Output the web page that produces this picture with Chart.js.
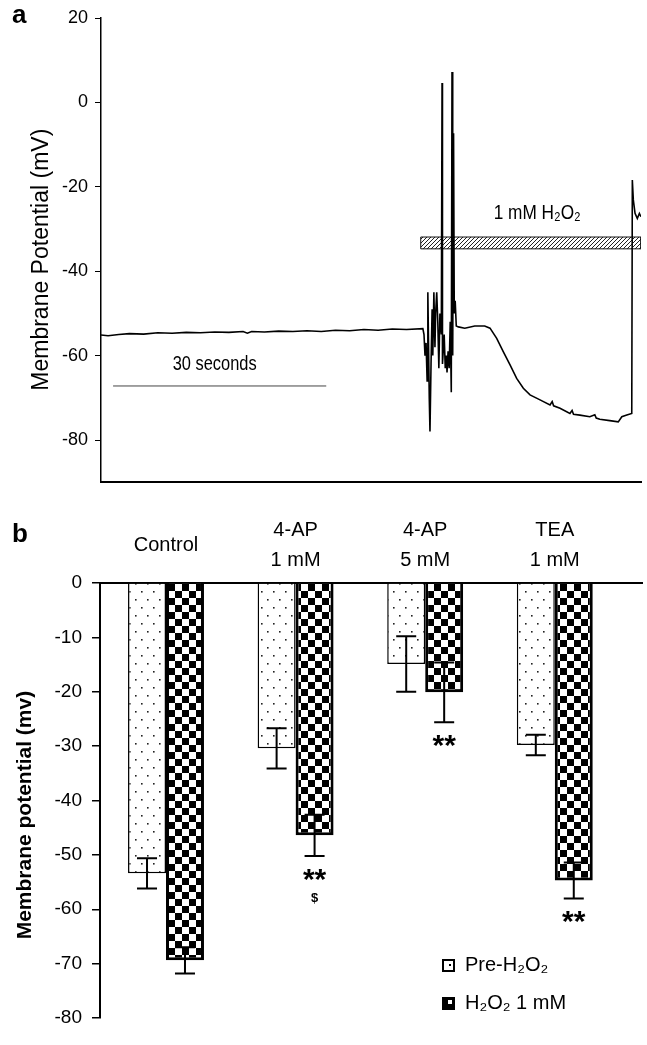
<!DOCTYPE html>
<html><head><meta charset="utf-8">
<script src="https://cdn.jsdelivr.net/npm/chart.js@4.4.1/dist/chart.umd.min.js"></script>
<style>
html,body{margin:0;padding:0;background:#fff;}
#wrap{position:relative;width:647px;height:1045px;overflow:hidden;background:#fff;}
canvas{position:absolute;left:0;}
#ca{top:0;} #cb{top:500px;}
.pl{position:absolute;font:bold 26px "Liberation Sans",Arial,sans-serif;line-height:1;color:#000;}
</style></head><body>
<div id="wrap">
<canvas id="ca" width="647" height="500"></canvas>
<canvas id="cb" width="647" height="545"></canvas>
<div class="pl" style="left:12px;top:1px">a</div>
<div class="pl" style="left:12px;top:520px">b</div>
</div>
<script>
// ---------- Panel a: membrane potential trace ----------
const traceTime = [0,1,2.5,4,6,8,10,12,14,16,18,20,20.6,21.2,23,25,27,29,31,33,35,37,39,41,43,45.3,
  45.46,45.6,45.75,45.9,46.0,46.2,46.3,46.45,46.6,46.7,46.85,47.0,47.1,47.25,47.4,47.55,47.7,47.9,48.0,48.06,
  48.3,48.45,48.6,48.7,48.85,49.0,49.15,49.3,49.4,49.5,49.62,49.72,49.85,50.0,50.3,51.2,52.6,54.0,54.75,
  55.69,56.63,57.57,58.5,59.44,60.38,61.79,63.2,63.5,63.7,64.6,66.0,66.3,66.5,67.4,68.8,69.5,69.7,70.2,71.6,
  72.8,73.3,74.0,74.7,74.78,74.92,75.16,75.48,75.77,76.0];
const traceMv = [-55.1,-55.3,-55.0,-54.8,-54.9,-54.6,-54.7,-54.5,-54.6,-54.4,-54.5,-54.3,-54.7,-54.3,-54.4,-54.2,-54.3,-54.1,-54.3,-54.0,-54.1,-53.8,-54.0,-53.7,-53.8,-53.6,
  -55,-60,-57,-66,-45,-70,-78,-62,-49,-60,-45,-58,-50,-45,-52,-63,-50,-55,4.6,-62,
  -55,-63,-60,-64,-59,-63,-52,-68.7,7.2,-60,-7.3,-50,-47,-53,-53.2,-53.5,-53.0,-53.0,-53.5,
  -55.9,-59.1,-62.2,-65.4,-67.75,-69.3,-70.5,-71.7,-70.9,-71.9,-72.5,-73.7,-73.0,-73.9,-74.1,-74.5,-74.0,-74.8,-75.1,-75.4,
  -75.7,-74.5,-74.1,-73.7,-18.4,-23.1,-26.3,-27.5,-26.3,-27.1];
const scaleBarTime = [1.7, 31.7];
const scaleBarMv = [-67.2, -67.2];
const h2o2BarTime = [45.0, 76.0, 76.0, 45.0, 45.0];
const h2o2BarMv = [-31.9, -31.9, -34.7, -34.7, -31.9];
const yTicksA = [20, 0, -20, -40, -60, -80];
const annotTextA = ['30 seconds', '1 mM H\u2082O\u2082'];
const annotTimeA = [16.0, 61.4];
const annotMvA = [-62.2, -26.2];

// ---------- Panel b: grouped bars ----------
const categories = ['Control', ['4-AP', '1 mM'], ['4-AP', '5 mM'], ['TEA', '1 mM']];
const seriesNames = ['Pre-H\u2082O\u2082', 'H\u2082O\u2082 1 mM'];
const preMean = [-53.4, -30.4, -14.9, -29.8];
const preErr = [2.8, 3.7, 5.1, 1.9];
const h2o2Mean = [-69.4, -46.4, -20.1, -54.7];
const h2o2Err = [2.4, 3.8, 5.5, 3.3];
const sigMarks = ['', '**', '**', '**'];
const extraMarks = ['', '$', '', ''];
const yTicksB = [0, -10, -20, -30, -40, -50, -60, -70, -80];

const SANS = '"Liberation Sans",Arial,Helvetica,sans-serif';

function makePattern(w, h, draw) {
  const c = document.createElement('canvas');
  c.width = w; c.height = h;
  const g = c.getContext('2d');
  g.fillStyle = '#fff'; g.fillRect(0, 0, w, h);
  draw(g);
  return g.createPattern(c, 'repeat');
}
const dotPattern = makePattern(12, 16, g => {
  g.fillStyle = '#222';
  g.fillRect(3, 3, 1.6, 1.6);
  g.fillRect(9, 11, 1.6, 1.6);
});
const checkerPattern = makePattern(14, 14, g => {
  g.fillStyle = '#000';
  g.fillRect(0, 0, 7, 7);
  g.fillRect(7, 7, 7, 7);
});
const hatchPattern = makePattern(4, 4, g => {
  g.strokeStyle = '#222'; g.lineWidth = 1;
  g.beginPath();
  g.moveTo(0, 4); g.lineTo(4, 0);
  g.moveTo(-1, 1); g.lineTo(1, -1);
  g.moveTo(3, 5); g.lineTo(5, 3);
  g.stroke();
});

const annotA = {
  id: 'annotA',
  afterDatasetsDraw(chart) {
    const {ctx, scales: {x, y}} = chart;
    annotTextA.forEach((t, i) => {
      ctx.save();
      ctx.fillStyle = '#000';
      ctx.textAlign = 'center';
      ctx.textBaseline = 'middle';
      ctx.font = (i === 0 ? '20px ' : '21px ') + SANS;
      ctx.translate(x.getPixelForValue(annotTimeA[i]), y.getPixelForValue(annotMvA[i]));
      ctx.scale(0.82, 1);
      ctx.fillText(t, 0, 0);
      ctx.restore();
    });
  }
};

new Chart(document.getElementById('ca'), {
  type: 'line',
  data: {
    datasets: [
      { label: 'Membrane potential', data: traceTime.map((t, i) => ({x: t, y: traceMv[i]})),
        borderColor: '#000', borderWidth: 1.6, pointRadius: 0, tension: 0, fill: false, order: 0 },
      { label: '1 mM H2O2', data: h2o2BarTime.map((t, i) => ({x: t, y: h2o2BarMv[i]})),
        borderColor: '#111', borderWidth: 1, backgroundColor: hatchPattern, fill: 'shape', pointRadius: 0, tension: 0, order: 1 },
      { label: '30 seconds', data: scaleBarTime.map((t, i) => ({x: t, y: scaleBarMv[i]})),
        borderColor: '#444', borderWidth: 1, pointRadius: 0, fill: false, order: 2 }
    ]
  },
  options: {
    responsive: false, animation: false, devicePixelRatio: 1,
    layout: {padding: {top: 18, right: 6, bottom: 13, left: 0}},
    plugins: {legend: {display: false}, tooltip: {enabled: false}},
    scales: {
      x: {type: 'linear', min: 0, max: 76,
        ticks: {display: false},
        grid: {display: true, drawOnChartArea: false, drawTicks: false},
        border: {display: true, color: '#000', width: 2},
        afterFit(s) { s.height = 0; }},
      y: {type: 'linear', min: -90, max: 20,
        afterBuildTicks(s) { s.ticks = yTicksA.map(v => ({value: v})); },
        ticks: {color: '#000', font: {family: SANS, size: 18}, padding: 7},
        grid: {drawOnChartArea: false, drawTicks: true, tickLength: 6, color: '#000', lineWidth: 1},
        border: {display: true, color: '#000', width: 1.5},
        title: {display: true, text: 'Membrane Potential (mV)   ', color: '#000',
          font: {family: SANS, size: 23}, padding: {top: 28, bottom: 0}},
        afterFit(s) { s.width = 101; }}
    }
  },
  plugins: [annotA]
});

const errPlugin = {
  id: 'errbars',
  afterDatasetsDraw(chart) {
    const {ctx, scales: {y}} = chart;
    const sets = [[preMean, preErr], [h2o2Mean, h2o2Err]];
    ctx.save();
    ctx.strokeStyle = '#000';
    ctx.lineWidth = 2;
    const cap = 10;
    sets.forEach(([m, e], di) => {
      chart.getDatasetMeta(di).data.forEach((bar, i) => {
        const x = bar.x;
        const yt = y.getPixelForValue(m[i] + e[i]);
        const yb = y.getPixelForValue(m[i] - e[i]);
        ctx.beginPath();
        ctx.moveTo(x, yt); ctx.lineTo(x, yb);
        ctx.moveTo(x - cap, yt); ctx.lineTo(x + cap, yt);
        ctx.moveTo(x - cap, yb); ctx.lineTo(x + cap, yb);
        ctx.stroke();
      });
    });
    ctx.fillStyle = '#000';
    ctx.textAlign = 'center';
    ctx.textBaseline = 'alphabetic';
    chart.getDatasetMeta(1).data.forEach((bar, i) => {
      const yb = y.getPixelForValue(h2o2Mean[i] - h2o2Err[i]);
      if (sigMarks[i]) {
        ctx.font = 'bold 30px ' + SANS;
        const m = ctx.measureText(sigMarks[i]);
        const c = yb + 19;
        ctx.fillText(sigMarks[i], bar.x, c - (m.actualBoundingBoxDescent - m.actualBoundingBoxAscent) / 2);
      }
      if (extraMarks[i]) {
        ctx.font = 'bold 13px ' + SANS;
        const m = ctx.measureText(extraMarks[i]);
        const c = yb + 43;
        ctx.fillText(extraMarks[i], bar.x, c - (m.actualBoundingBoxDescent - m.actualBoundingBoxAscent) / 2);
      }
    });
    ctx.restore();
  },
  afterDraw(chart) {
    const ctx = chart.ctx;
    const rows = [465, 503];
    ctx.save();
    ctx.textBaseline = 'middle';
    ctx.textAlign = 'left';
    seriesNames.forEach((name, i) => {
      const bx = 443, by = rows[i] - 5;
      ctx.fillStyle = i === 0 ? '#fff' : '#000';
      ctx.fillRect(bx, by, 11, 11);
      ctx.fillStyle = i === 0 ? '#000' : '#fff';
      if (i === 0) ctx.fillRect(bx + 6, by + 4, 2, 2); else ctx.fillRect(bx + 5, by + 2, 4, 4);
      ctx.strokeStyle = '#000'; ctx.lineWidth = 2;
      ctx.strokeRect(bx, by, 11, 11);
      ctx.fillStyle = '#000';
      ctx.font = '20px ' + SANS;
      ctx.fillText(name, 465, rows[i]);
    });
    ctx.restore();
  }
};

new Chart(document.getElementById('cb'), {
  type: 'bar',
  data: {
    datasets: [
      { label: seriesNames[0], data: preMean.map((v, i) => ({x: i + 1, y: v})),
        backgroundColor: dotPattern, borderColor: '#000', borderWidth: 1.5 },
      { label: seriesNames[1], data: h2o2Mean.map((v, i) => ({x: i + 1, y: v})),
        backgroundColor: checkerPattern, borderColor: '#000', borderWidth: 3 }
    ]
  },
  options: {
    responsive: false, animation: false, devicePixelRatio: 1,
    layout: {padding: {top: 0, right: 5, bottom: 27, left: 0}},
    datasets: {bar: {categoryPercentage: 0.586, barPercentage: 1}},
    plugins: {legend: {display: false}, tooltip: {enabled: false}},
    scales: {
      x: {type: 'linear', position: 'top', min: 0.4907, max: 4.673, offset: false,
        afterBuildTicks(s) { s.ticks = categories.map((c, i) => ({value: i + 1})); },
        ticks: {callback: (v, i) => categories[i], color: '#000', autoSkip: false, maxRotation: 0,
          font: {family: SANS, size: 20, lineHeight: 1.5}, padding: 23, crossAlign: 'center'},
        grid: {display: true, drawOnChartArea: false, drawTicks: false},
        border: {display: true, color: '#000', width: 2},
        afterFit(s) { s.height = 83; }},
      y: {type: 'linear', min: -80, max: 0,
        afterBuildTicks(s) { s.ticks = yTicksB.map(v => ({value: v})); },
        ticks: {color: '#000', font: {family: SANS, size: 19}, padding: 10},
        grid: {drawOnChartArea: false, drawTicks: true, tickLength: 8, color: '#000', lineWidth: 1.5},
        border: {display: true, color: '#000', width: 2},
        title: {display: true, text: 'Membrane potential (mv)     ', color: '#000',
          font: {family: SANS, size: 21, weight: 'bold'}, padding: {top: 13, bottom: 0}},
        afterFit(s) { s.width = 100; }}
    }
  },
  plugins: [errPlugin]
});
</script>
</body></html>
